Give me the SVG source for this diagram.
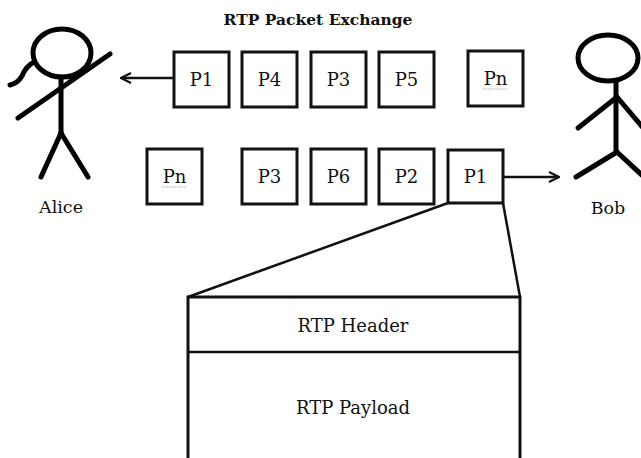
<svg xmlns="http://www.w3.org/2000/svg" width="641" height="458" viewBox="0 0 641 458">
  <defs>
    <style>
      text { font-family: "DejaVu Serif", "Liberation Serif", serif; fill: #111; }
      .title { font-size: 15.5px; font-weight: bold; }
      .lbl { font-size: 18px; text-anchor: middle; }
      .name { font-size: 17.5px; text-anchor: middle; }
      .box { fill: #fff; stroke: #111; stroke-width: 3; }
      .stick { fill: none; stroke: #000; stroke-width: 5; stroke-linecap: round; }
      .wire { fill: none; stroke: #111; stroke-width: 2.5; }
      .squiggle { fill: none; stroke: #aaa; stroke-width: 1; stroke-dasharray: 1.5 1; }
    </style>
    <marker id="chev" viewBox="0 0 12 12" refX="11" refY="6" markerWidth="12" markerHeight="12" markerUnits="userSpaceOnUse" orient="auto">
      <path d="M1,1 L11,6 L1,11" fill="none" stroke="#111" stroke-width="2.2"/>
    </marker>
  </defs>

  <rect width="641" height="458" fill="#fff"/>

  <text class="title" x="318" y="25" text-anchor="middle">RTP Packet Exchange</text>

  <!-- Alice -->
  <g id="alice">
    <ellipse class="stick" cx="62" cy="53" rx="29" ry="24"/>
    <path class="stick" d="M34,62 Q26,66 22,76 Q18,83 10,85"/>
    <line class="stick" x1="61" y1="77" x2="61" y2="133"/>
    <line class="stick" x1="18" y1="118" x2="110" y2="54"/>
    <line class="stick" x1="61" y1="133" x2="41" y2="177"/>
    <line class="stick" x1="61" y1="133" x2="88" y2="177"/>
    <text class="name" x="61" y="213">Alice</text>
  </g>

  <!-- Bob -->
  <g id="bob">
    <ellipse class="stick" cx="608" cy="58" rx="30" ry="23"/>
    <line class="stick" x1="616" y1="81" x2="616" y2="152"/>
    <line class="stick" x1="617" y1="97" x2="578" y2="128"/>
    <line class="stick" x1="617" y1="97" x2="645" y2="130"/>
    <line class="stick" x1="617" y1="152" x2="576" y2="177"/>
    <line class="stick" x1="617" y1="152" x2="645" y2="178"/>
    <text class="name" x="608" y="214">Bob</text>
  </g>

  <!-- packets travelling to Alice -->
  <g id="top-p1"><rect class="box" x="174" y="52" width="55" height="55"/><text class="lbl" x="201.5" y="86">P1</text></g>
  <g id="top-p4"><rect class="box" x="242" y="52" width="55" height="55"/><text class="lbl" x="269.5" y="86">P4</text></g>
  <g id="top-p3"><rect class="box" x="311" y="52" width="55" height="55"/><text class="lbl" x="338.5" y="86">P3</text></g>
  <g id="top-p5"><rect class="box" x="379" y="52" width="55" height="55"/><text class="lbl" x="406.5" y="86">P5</text></g>
  <g id="top-pn"><rect class="box" x="468" y="51" width="55" height="55"/><text class="lbl" x="495.5" y="85">Pn</text>
    <path class="squiggle" d="M483,89 H508"/></g>

  <!-- packets travelling to Bob -->
  <g id="bot-pn"><rect class="box" x="147" y="149" width="55" height="55"/><text class="lbl" x="174.5" y="183">Pn</text>
    <path class="squiggle" d="M162,187 H187"/></g>
  <g id="bot-p3"><rect class="box" x="242" y="149" width="55" height="55"/><text class="lbl" x="269.5" y="183">P3</text></g>
  <g id="bot-p6"><rect class="box" x="311" y="149" width="55" height="55"/><text class="lbl" x="338.5" y="183">P6</text></g>
  <g id="bot-p2"><rect class="box" x="379" y="149" width="55" height="55"/><text class="lbl" x="406.5" y="183">P2</text></g>
  <g id="bot-p1"><rect class="box" x="448" y="150" width="55" height="53"/><text class="lbl" x="475.5" y="183">P1</text></g>

  <!-- expanded packet structure -->
  <g id="packet-detail">
    <rect class="box" x="188" y="297" width="332" height="175"/>
    <line class="wire" x1="188" y1="352" x2="520" y2="352" stroke-width="3"/>
    <text class="lbl" x="353" y="332">RTP Header</text>
    <text class="lbl" x="353" y="414">RTP Payload</text>
  </g>

  <!-- connectors -->
  <g id="connectors">
    <line class="wire" x1="173" y1="78" x2="121" y2="78" marker-end="url(#chev)"/>
    <line class="wire" x1="503" y1="177" x2="559" y2="177" marker-end="url(#chev)"/>
    <line class="wire" x1="448" y1="203" x2="188" y2="297"/>
    <line class="wire" x1="503" y1="203" x2="520" y2="297"/>
  </g>
</svg>
